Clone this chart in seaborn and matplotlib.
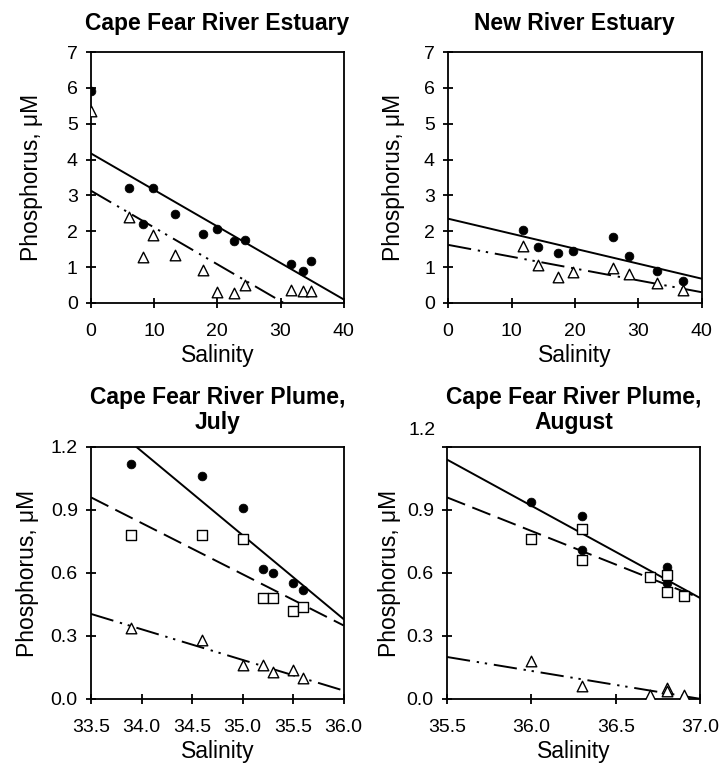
# IMPORTING LIBRARIES

import numpy as np
import pandas as pd
import matplotlib
matplotlib.use('Agg')
import matplotlib.pyplot as plt
import seaborn as sns


# DATA - CAPE FEAR RIVER ESTUARY

cfe_sal = [0, 6, 8.2, 9.8, 13.3, 17.7, 20, 22.6, 24.4, 31.6, 33.6, 34.8]
cfe_circle = [5.9, 3.2, 2.2, 3.2, 2.47, 1.93, 2.05, 1.72, 1.75, 1.1, 0.88, 1.17]
cfe_tri = [5.35, 2.4, 1.27, 1.9, 1.35, 0.92, 0.3, 0.28, 0.5, 0.37, 0.32, 0.32]
cfe_fit_circle = (4.17, -0.1018)   # intercept, slope
cfe_fit_tri = (3.13, -0.1026)

# DATA - NEW RIVER ESTUARY

nre_sal = [11.8, 14.2, 17.3, 19.7, 26.1, 28.6, 32.9, 37]
nre_circle = [2.03, 1.55, 1.4, 1.45, 1.83, 1.32, 0.9, 0.62]
nre_tri = [1.6, 1.05, 0.73, 0.87, 0.98, 0.82, 0.57, 0.35]
nre_fit_circle = (2.35, -0.0418)
nre_fit_tri = (1.62, -0.033)

# DATA - CAPE FEAR RIVER PLUME, JULY

jul_sal = [33.9, 34.6, 35.0, 35.2, 35.3, 35.5, 35.6]
jul_circle = [1.12, 1.06, 0.91, 0.62, 0.6, 0.55, 0.52]
jul_square = [0.78, 0.78, 0.76, 0.48, 0.48, 0.42, 0.44]
jul_tri = [0.34, 0.28, 0.16, 0.16, 0.13, 0.14, 0.1]
jul_fit_circle = (1.38, -0.40)     # intercept at x = 33.5
jul_fit_square = (0.96, -0.244)
jul_fit_tri = (0.405, -0.146)

# DATA - CAPE FEAR RIVER PLUME, AUGUST

aug_sal_circle = [36.0, 36.3, 36.3, 36.8, 36.8, 36.9]
aug_circle = [0.94, 0.87, 0.71, 0.63, 0.55, 0.5]
aug_sal_square = [36.0, 36.3, 36.3, 36.7, 36.8, 36.8, 36.9]
aug_square = [0.76, 0.81, 0.66, 0.58, 0.59, 0.51, 0.49]
aug_sal_tri = [36.0, 36.3, 36.7, 36.8, 36.8, 36.9]
aug_tri = [0.18, 0.06, 0.02, 0.05, 0.04, 0.02]
aug_fit_circle = (1.14, -0.44)     # intercept at x = 35.5
aug_fit_square = (0.96, -0.32)
aug_fit_tri = (0.2, -0.133)

# TICK LABELS

est_xticks = [0, 10, 20, 30, 40]
est_yticks = [0, 1, 2, 3, 4, 5, 6, 7]
jul_xticks = [33.5, 34.0, 34.5, 35.0, 35.5, 36.0]
aug_xticks = [35.5, 36.0, 36.5, 37.0]
plume_yticks = [0.0, 0.3, 0.6, 0.9, 1.2]


# STYLE

sns.set_style('ticks')
plt.rcParams['font.family'] = ['Liberation Sans', 'DejaVu Sans']
plt.rcParams['text.color'] = 'black'
plt.rcParams['axes.labelcolor'] = 'black'
plt.rcParams['axes.linewidth'] = 1.3
plt.rcParams['xtick.major.width'] = 1.3
plt.rcParams['ytick.major.width'] = 1.3
plt.rcParams['xtick.major.size'] = 7
plt.rcParams['ytick.major.size'] = 7
plt.rcParams['xtick.direction'] = 'inout'
plt.rcParams['ytick.direction'] = 'inout'

DASHDOTDOT = (0, (12, 3.5, 1.2, 3, 1.2, 3.5))
DASHED = (0, (10, 4))


def draw_fit(ax, fit, x0, x1, ls):
    xs = np.array([x0, x1])
    ys = fit[0] + fit[1] * (xs - x0)
    sns.lineplot(x=xs, y=ys, ax=ax, color='black', lw=1.4, linestyle=ls)


def draw_points(ax, x, y, kind):
    if kind == 'circle':
        sns.scatterplot(x=x, y=y, ax=ax, marker='o', s=40, color='black',
                        edgecolor='black', zorder=3)
    elif kind == 'square':
        sns.scatterplot(x=x, y=y, ax=ax, marker='s', s=50, facecolor='white',
                        edgecolor='black', linewidth=1.0, zorder=3)
    else:
        sns.scatterplot(x=x, y=y, ax=ax, marker='^', s=58, facecolor='white',
                        edgecolor='black', linewidth=1.0, zorder=3)


def style_axes(ax, title, xticks, xfmt, yticks, yfmt, ylab_x, tpad):
    ax.set_title(title, fontsize=16.5, fontweight='bold', pad=tpad, linespacing=1.1)
    ax.set_xticks(xticks)
    ax.set_xticklabels([xfmt.format(v) for v in xticks], fontsize=14)
    ax.set_yticks(yticks)
    ax.set_yticklabels([yfmt.format(v) for v in yticks], fontsize=14)
    ax.set_xlim(xticks[0], xticks[-1])
    ax.set_ylim(yticks[0], yticks[-1])
    ax.set_xlabel('Salinity', fontsize=16.5, labelpad=3)
    ax.set_ylabel('Phosphorus, \u03bcM', fontsize=16.5)
    ax.yaxis.set_label_coords(ylab_x, 0.5)
    for s in ax.spines.values():
        s.set_visible(True)
        s.set_color('black')
    ax.tick_params(axis='x', colors='black', pad=11)
    ax.tick_params(axis='y', colors='black', pad=6)


# FIGURE

fig = plt.figure(figsize=(7.24, 7.65), dpi=100)

ax1 = fig.add_axes([0.1257, 0.604, 0.349, 0.328])
ax2 = fig.add_axes([0.619, 0.604, 0.350, 0.328])
ax3 = fig.add_axes([0.1257, 0.0863, 0.349, 0.3294])
ax4 = fig.add_axes([0.6174, 0.0863, 0.350, 0.3294])


# CAPE FEAR RIVER ESTUARY

draw_fit(ax1, cfe_fit_circle, 0, 40, '-')
draw_fit(ax1, cfe_fit_tri, 0, 40, DASHDOTDOT)
draw_points(ax1, cfe_sal, cfe_circle, 'circle')
draw_points(ax1, cfe_sal, cfe_tri, 'tri')
style_axes(ax1, 'Cape Fear River Estuary', est_xticks, '{:d}', est_yticks, '{:d}', -0.19, 16)


# NEW RIVER ESTUARY

draw_fit(ax2, nre_fit_circle, 0, 40, '-')
draw_fit(ax2, nre_fit_tri, 0, 40, DASHDOTDOT)
draw_points(ax2, nre_sal, nre_circle, 'circle')
draw_points(ax2, nre_sal, nre_tri, 'tri')
style_axes(ax2, 'New River Estuary', est_xticks, '{:d}', est_yticks, '{:d}', -0.169, 16)


# CAPE FEAR RIVER PLUME, JULY

draw_fit(ax3, jul_fit_circle, 33.5, 36.0, '-')
draw_fit(ax3, jul_fit_square, 33.5, 36.0, DASHED)
draw_fit(ax3, jul_fit_tri, 33.5, 36.0, DASHDOTDOT)
draw_points(ax3, jul_sal, jul_circle, 'circle')
draw_points(ax3, jul_sal, jul_square, 'square')
draw_points(ax3, jul_sal, jul_tri, 'tri')
style_axes(ax3, 'Cape Fear River Plume,\nJuly', jul_xticks, '{:.1f}', plume_yticks, '{:.1f}', -0.205, 13)


# CAPE FEAR RIVER PLUME, AUGUST

draw_fit(ax4, aug_fit_circle, 35.5, 37.0, '-')
draw_fit(ax4, aug_fit_square, 35.5, 37.0, DASHED)
draw_fit(ax4, aug_fit_tri, 35.5, 37.0, DASHDOTDOT)
draw_points(ax4, aug_sal_circle, aug_circle, 'circle')
draw_points(ax4, aug_sal_square, aug_square, 'square')
draw_points(ax4, aug_sal_tri, aug_tri, 'tri')
style_axes(ax4, 'Cape Fear River Plume,\nAugust', aug_xticks, '{:.1f}', plume_yticks, '{:.1f}', -0.181, 13)

# the top label sits a little above the frame in the original
labels = ['{:.1f}'.format(v) for v in plume_yticks]
labels[-1] = ''
ax4.set_yticklabels(labels, fontsize=14)
ax4.annotate('{:.1f}'.format(plume_yticks[-1]), xy=(0, plume_yticks[-1]),
             xycoords=('axes fraction', 'data'), xytext=(-8.5, 12),
             textcoords='offset points', ha='right', va='center', fontsize=14)

for ax in [ax1, ax2, ax3, ax4]:
    if ax.get_legend() is not None:
        ax.get_legend().remove()

plt.savefig('out.png', dpi=100)
